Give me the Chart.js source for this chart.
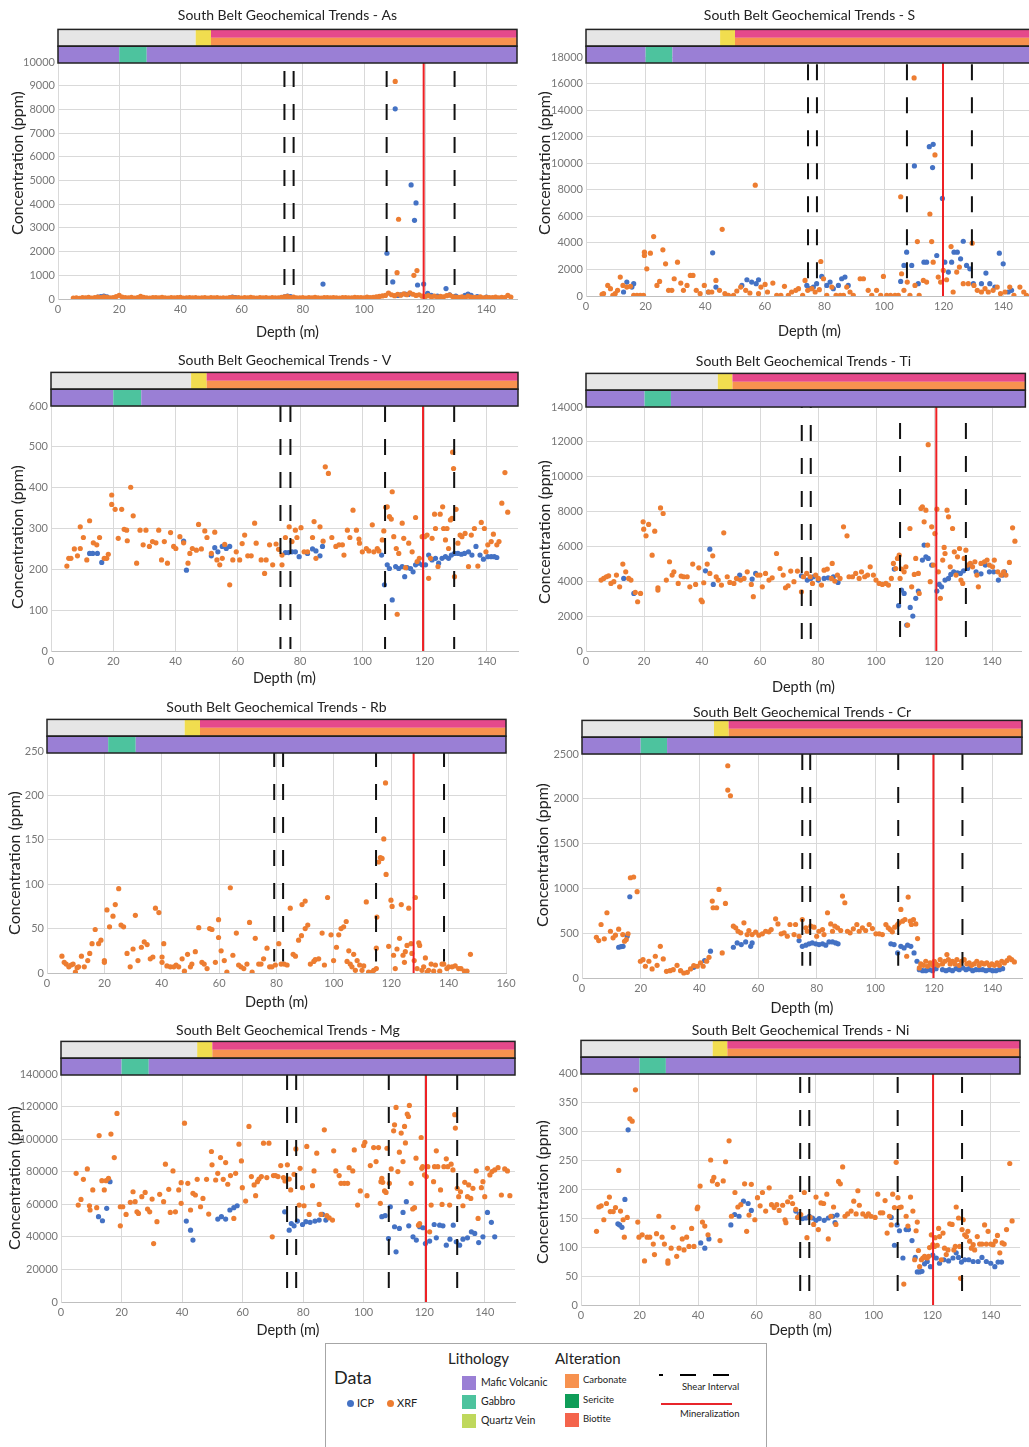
<!DOCTYPE html>
<html>
<head>
<meta charset="utf-8">
<script src="https://cdn.jsdelivr.net/npm/chart.js@4.4.1/dist/chart.umd.min.js"></script>
<style>
  html, body { margin: 0; padding: 0; background: #fff; }
  body { width: 1029px; height: 1447px; overflow: hidden; position: relative; font-family: Lato, "Open Sans", sans-serif; color: #222; }
  canvas.panel { position: absolute; }
  #legend { position: absolute; left: 325px; top: 1343px; width: 442px; height: 110px; border: 1px solid #a6a6a6; box-sizing: border-box; }
  #legend div { position: absolute; white-space: nowrap; }
  .sw { width: 14px; height: 14px; }
  .dot { width: 7px; height: 7px; border-radius: 50%; }
  .dash { height: 2px; background: #000; }
</style>
</head>
<body>
<canvas id="cAs" class="panel"></canvas>
<canvas id="cS" class="panel"></canvas>
<canvas id="cV" class="panel"></canvas>
<canvas id="cTi" class="panel"></canvas>
<canvas id="cRb" class="panel"></canvas>
<canvas id="cCr" class="panel"></canvas>
<canvas id="cMg" class="panel"></canvas>
<canvas id="cNi" class="panel"></canvas>

<div id="legend">
  <div style="left:8px;top:22px;font-size:18px;">Data</div>
  <div class="dot" style="left:21px;top:56px;background:#4472c4;"></div>
  <div style="left:31px;top:52px;font-size:11px;">ICP</div>
  <div class="dot" style="left:61px;top:56px;background:#ed7d31;"></div>
  <div style="left:71px;top:52px;font-size:11px;">XRF</div>

  <div style="left:122px;top:5px;font-size:15px;">Lithology</div>
  <div class="sw" style="left:136px;top:32px;background:#9a7fd5;"></div>
  <div style="left:155px;top:32px;font-size:10.5px;">Mafic Volcanic</div>
  <div class="sw" style="left:136px;top:51px;background:#4dc39e;"></div>
  <div style="left:155px;top:51px;font-size:10.5px;">Gabbro</div>
  <div class="sw" style="left:136px;top:70px;background:#bfd85c;"></div>
  <div style="left:155px;top:70px;font-size:10.5px;">Quartz Vein</div>

  <div style="left:229px;top:5px;font-size:15px;">Alteration</div>
  <div class="sw" style="left:239px;top:30px;background:#f7924f;"></div>
  <div style="left:257px;top:30px;font-size:9.5px;">Carbonate</div>
  <div class="sw" style="left:239px;top:50px;background:#0f9d58;"></div>
  <div style="left:257px;top:50px;font-size:9.5px;">Sericite</div>
  <div class="sw" style="left:239px;top:69px;background:#f4644c;"></div>
  <div style="left:257px;top:69px;font-size:9.5px;">Biotite</div>

  <div class="dash" style="left:333px;top:30px;width:4px;"></div>
  <div class="dash" style="left:354px;top:30px;width:16px;"></div>
  <div class="dash" style="left:387px;top:30px;width:16px;"></div>
  <div style="left:356px;top:37px;font-size:9.5px;">Shear Interval</div>
  <div style="left:335px;top:59px;width:71px;height:2px;background:#e8252b;"></div>
  <div style="left:354px;top:64px;font-size:9.5px;">Mineralization</div>
</div>

<script>
// ---- lithology / alteration logs along the hole (depth in m) ----
const altFrom = [0, 45, 50];
const altTo = [45, 50, 150];
const altKind = ['none', 'quartz', 'carbonate+biotite'];
const lithFrom = [0, 20, 29];
const lithTo = [20, 29, 150];
const lithKind = ['mafic', 'gabbro', 'mafic'];

// ---- As ----
const asIcp = [[13,80],[14,100],[15,120],[16,90],[57,80],[58,60],[74,90],[75,120],[76,100],[86.6,630],[107.5,1930],[109.4,720],[110.2,8025],[111,150],[112,180],[113.5,210],[114.5,190],[115.4,4815],[116.5,3320],[117,4055],[117.5,590],[119.5,630],[120.8,240],[122,150],[124,120],[126.8,440],[128,180],[130,120],[133,150],[134,210],[135,150],[137,100],[140,80]];
const asXrf = [[5,40],[6,50],[7,30],[8,60],[9,45],[10,70],[11,40],[12,55],[13,80],[14,60],[15,90],[16,70],[17,50],[18,60],[19,100],[20,150],[21,80],[22,60],[23,50],[24,70],[25,40],[26,60],[27,110],[28,70],[29,50],[30,40],[31,60],[32,55],[33,45],[34,70],[35,50],[36,40],[37,60],[38,45],[39,55],[40,70],[41,40],[42,50],[43,60],[44,45],[45,55],[46,35],[47,50],[48,60],[49,40],[50,55],[51,45],[52,60],[53,40],[54,50],[55,35],[56,55],[57,70],[58,45],[59,60],[60,40],[61,55],[62,45],[63,70],[64,50],[65,40],[66,60],[67,45],[68,55],[69,35],[70,60],[71,50],[72,45],[73,70],[74,90],[75,110],[76,60],[77,80],[78,50],[79,45],[80,60],[81,40],[82,55],[83,50],[84,65],[85,45],[86,40],[87,60],[88,55],[89,45],[90,60],[91,50],[92,40],[93,55],[94,60],[95,45],[96,50],[97,70],[98,55],[99,60],[100,45],[101,80],[102,60],[103,70],[104,90],[105,110],[106,130],[107,150],[108,250],[109,180],[110,140],[111,200],[112,160],[113,220],[114,180],[115,260],[116,200],[117,150],[118,180],[119,120],[120,100],[121,140],[122,90],[123,120],[124,80],[125,110],[126,90],[127,140],[128,160],[129,100],[130,80],[131,70],[132,90],[133,60],[134,120],[135,80],[136,70],[137,60],[138,90],[139,50],[140,70],[141,60],[142,55],[143,80],[144,50],[145,70],[146,60],[147,150],[148,80],[110.2,9180],[111.3,3365],[110.8,1110],[116.3,1000],[117.3,1200]];

// ---- S ----
const sIcp = [[12.6,300],[13.7,1050],[15.4,675],[16,925],[41.1,300],[42.5,3250],[43.6,675],[52.3,800],[54,1225],[55.6,1050],[57.1,925],[57.9,1225],[74.1,800],[75.2,550],[76.3,675],[77.4,925],[79.1,1475],[80.8,800],[81.9,1050],[83,550],[84.7,800],[85.8,1300],[86.9,1425],[88,800],[105.6,1100],[106.7,2300],[107.6,3300],[109.3,2300],[110.2,9800],[111.5,925],[113.4,2550],[114.3,2550],[115.2,11250],[116.5,11425],[116.3,9675],[117.7,3050],[119.6,7350],[120.4,2550],[121.6,1800],[122.7,2550],[123.5,3300],[124.6,3300],[125.7,2800],[126.6,4125],[127.7,2300],[128.8,2050],[130,925],[132.7,925],[134.2,1725],[135.5,925],[137.2,675],[138.7,3225],[140,2425],[141.7,300],[142.8,425]];
const sXrf = [[5.4,125],[5.9,175],[7.3,800],[8.2,550],[9,50],[9.8,175],[10.6,425],[11.5,1425],[12.4,800],[13.7,675],[14.9,725],[16,50],[17.1,50],[18.2,50],[19.3,50],[19.6,3300],[19.6,3050],[20.4,2050],[21.6,3225],[22.7,4475],[23.8,800],[24.7,1100],[25.8,3475],[26.7,2425],[27.7,425],[28.8,425],[29.6,1300],[30.7,2550],[31.8,975],[32.7,425],[33.9,800],[35,1550],[35.9,1550],[37,425],[38.3,175],[39.7,800],[41.1,300],[42.2,300],[43.6,1175],[44.8,425],[45.7,5025],[46.6,175],[47.8,50],[49.5,50],[50.6,375],[51.9,675],[53.6,425],[55,225],[56.8,8350],[57.9,175],[58.7,675],[60.1,875],[60.9,300],[62.7,975],[64,50],[65.4,50],[66.6,725],[67.9,50],[69,300],[70.4,425],[71.3,550],[72.7,50],[73.5,1175],[74.4,425],[75.8,550],[76.9,300],[78.3,475],[78.8,2600],[79.7,1300],[80.8,50],[82.5,675],[83.9,50],[85.3,50],[86.4,50],[87.5,675],[88.6,300],[89.7,50],[92,1300],[93.1,1300],[94.7,425],[95.9,50],[97.5,425],[98.9,50],[99.8,1475],[100.9,50],[102.2,50],[103.7,50],[104.8,50],[105.6,7475],[105.9,1675],[106.7,425],[107.8,1050],[108.7,50],[110.1,16425],[110.4,800],[111.2,4100],[111.8,50],[113.2,1175],[114.3,1050],[115.4,6175],[116,4100],[117.1,10625],[116.5,2550],[118.2,1425],[119,1050],[119.9,1925],[121,1225],[122.5,3725],[123.2,300],[124.4,1800],[125.3,2175],[126.6,925],[128.3,925],[129.6,3975],[130.2,800],[131.3,425],[132.7,300],[133.9,550],[135,300],[136.6,425],[138,675],[139.1,175],[140.6,300],[142.2,675],[143.6,50],[145.6,675],[146.9,300],[147.8,50]];

// ---- V ----
const vIcp = [[12.4,239],[13.4,239],[14.9,239],[16.3,217],[42.6,269],[43.5,198],[51.5,233],[52.6,253],[53.6,243],[55,256],[56.3,251],[57.4,256],[75.3,241],[76.3,241],[77.4,243],[78.5,243],[79.7,231],[82.4,239],[84,250],[85.1,245],[86.4,233],[87.2,256],[106.2,235],[107.1,162],[108,211],[108.7,202],[109.6,125],[110.7,207],[111.7,202],[112.8,207],[113.6,182],[114.4,204],[115.5,202],[116.3,194],[117.1,211],[118.1,215],[119.2,211],[120.3,211],[121.3,235],[122.4,223],[123.5,227],[124.5,215],[125.6,227],[126.7,231],[127.7,227],[128.6,235],[129.6,239],[130.7,239],[131.8,237],[132.8,239],[134.1,243],[135.2,235],[136.5,256],[137.8,235],[138.9,225],[140.3,231],[141.4,231],[142.4,231],[143.2,229]];
const vXrf = [[5.1,208],[5.7,227],[6.4,227],[7.5,250],[8.5,233],[9.4,304],[9.4,251],[10.4,278],[11.5,223],[12.4,319],[13.6,265],[14.7,260],[15.6,278],[17.1,227],[17.9,227],[18.4,237],[19.5,382],[19.5,359],[20.6,347],[21.6,276],[22.7,347],[23.5,298],[24.3,296],[24.5,270],[25.6,401],[26.4,331],[27.5,215],[28.6,296],[29.6,260],[30.5,296],[31.6,256],[32.6,268],[33.7,265],[34.6,296],[35.5,223],[36.4,268],[37.4,215],[38.4,290],[39.4,256],[40.1,251],[41.4,280],[42.6,265],[44,215],[44.6,239],[45.4,251],[46.7,247],[47.4,310],[48.3,250],[49.4,294],[50.1,278],[51.5,239],[52.6,291],[53.3,223],[54.2,211],[55,227],[55.8,261],[57.4,162],[58.4,223],[59.5,243],[60.6,223],[61.4,263],[62.2,284],[63.2,233],[64.3,233],[65.4,313],[65.9,264],[67.5,223],[68.6,190],[69.1,223],[70.2,260],[71.2,211],[72.3,262],[73.1,249],[74.2,211],[74.2,235],[75.3,278],[76.5,304],[77.4,268],[78.5,296],[79,278],[80.3,302],[81.3,243],[82.4,243],[84,278],[84.5,317],[85.1,227],[86.4,304],[87.4,269],[88.1,451],[89.1,435],[90.2,278],[91.5,256],[92.5,260],[93.6,260],[94.1,235],[95.2,296],[96,278],[97,345],[98.1,296],[98.9,274],[99.1,264],[100,243],[101.3,251],[102.1,245],[103.2,309],[103.7,243],[104.8,251],[105.3,245],[106.4,272],[106.9,294],[107.5,352],[108,353],[108.7,329],[109.3,323],[109.6,390],[110.1,280],[110.9,251],[111.2,90],[111.7,239],[112.8,313],[113.3,276],[113.9,204],[114.9,264],[116,243],[117.1,327],[117.6,219],[118.3,227],[119.2,280],[120,280],[120.8,284],[121.3,178],[121.9,227],[122.4,276],[123.2,335],[123.5,300],[124.3,207],[125,335],[125.8,353],[126.1,300],[126.7,272],[127.2,300],[127.7,251],[128.3,321],[128.8,325],[129,487],[129.3,447],[129.6,182],[130.1,347],[130.7,264],[131.4,284],[132,280],[133,288],[134.1,207],[135,284],[136,300],[137.1,208],[138.2,315],[139.2,300],[139.7,243],[140.3,260],[141.4,268],[142.1,286],[143.2,260],[143.9,268],[144.8,362],[145.8,437],[146.7,340]];

// ---- Ti ----
const tiIcp = [[13,4165],[16.5,3305],[41.2,4600],[42.7,5845],[43.9,3820],[53,4355],[57.3,4125],[58.5,4450],[74.3,4315],[76.3,4070],[77.5,4165],[78.4,4260],[80.1,4070],[82.1,4165],[83.5,4200],[85.3,4260],[86.9,3935],[106.3,4700],[107.8,2600],[108.8,3495],[109.7,3305],[110.6,1490],[111.8,2500],[112.7,2005],[113.7,3020],[114.6,3440],[116,5215],[116.6,6075],[117.2,5405],[118,5310],[119.2,4930],[121,3440],[121.8,3820],[122.6,3685],[123.8,4070],[125,4165],[125.8,4395],[126.8,4545],[128.1,4490],[129.1,4450],[130.2,4600],[131.6,4735],[132.7,4930],[134.5,4545],[136.2,4430],[137.7,4930],[139.1,4545],[140.6,4545],[142.2,4070],[143.7,4355],[144.3,4545]];
const tiXrf = [[5.2,4070],[6.1,4165],[7,4260],[7.8,4315],[8.6,3875],[9.6,3975],[10.5,4355],[11.6,3685],[12.7,4985],[13.7,4545],[14.7,4165],[15.5,4070],[17,3360],[17.8,2825],[18.8,3305],[19.7,7410],[19.9,6990],[20.7,6610],[21.6,7260],[22.8,5500],[23.7,6875],[24.8,3630],[24.8,3495],[25.7,8210],[26.6,7890],[27.7,4070],[28.8,5120],[29.7,4355],[30.3,4545],[31.8,3875],[32.8,4300],[33.7,4260],[34.9,4260],[35.8,3685],[36.8,4985],[37.8,3820],[38.9,4775],[39.7,2920],[40.1,2825],[40.6,3915],[41.8,4985],[42.7,4450],[43.7,5460],[44.9,4260],[45.6,4070],[46.7,3780],[47.5,6780],[48.7,4260],[49.6,3935],[51,3875],[51.9,4165],[53.3,4070],[54.5,4165],[55.6,4545],[57,3820],[57.7,3115],[59.1,4355],[60,4355],[60.8,3685],[61.9,4450],[63.1,4070],[64.2,4200],[65.7,5595],[66.9,4735],[68,4355],[68.8,3630],[69.7,3745],[70.6,4585],[71.7,3975],[72.9,4585],[74.3,3400],[75,4260],[76.1,4450],[77.3,4260],[78.1,3875],[79.2,4355],[80.1,4165],[81.2,3780],[82.1,4640],[83.2,4700],[84.6,4165],[84.9,5025],[85.8,4010],[86.7,4355],[87.6,4165],[88.8,7125],[90,6610],[90.7,4260],[91.9,4260],[93,4450],[94.2,4165],[95,4545],[96.1,4260],[97.1,4355],[98,4830],[99.1,4355],[100,4070],[101.1,3875],[102.2,3820],[103.4,3875],[104.3,3780],[105.3,4165],[106,5025],[106.8,4735],[107.4,5310],[108,5500],[108.3,4165],[108.8,4700],[109.7,4545],[110.3,4830],[110.9,1490],[111.7,7030],[112.3,3685],[113.2,4395],[113.7,5310],[114.6,4450],[114.9,3305],[115.5,8175],[116,8270],[116.6,7410],[117.2,8080],[117.8,6075],[118,11840],[118.7,3975],[119.2,7125],[119.8,4930],[120.3,6740],[121,8135],[121.5,4545],[122.2,3020],[123,5215],[123.5,5940],[123.8,5595],[124.5,8080],[125,7700],[125.6,4830],[126.4,7030],[127,5690],[127.6,4355],[128.1,5405],[128.8,5880],[129.3,4070],[129.9,3875],[130.4,5310],[131,5785],[131.6,4930],[132.5,5025],[133.3,4830],[134.1,5120],[134.8,4355],[135.3,3685],[136.2,5025],[137.4,5120],[138.3,5215],[139.1,4930],[140.2,4830],[140.8,5215],[142,4545],[143.1,4355],[144,4545],[144.8,4355],[146,5080],[147.1,7070],[147.9,6300]];

// ---- Rb (XRF only) ----
const rbIcp = [];
const rbXrf = [[5.2,19],[6,12],[6.7,10],[7.6,7],[8.4,9],[9.1,10],[9.9,1],[10.5,6],[11,7],[12,19],[13,7],[14.2,14],[14.9,22],[15.7,33],[16.8,49],[18,33],[18.8,37],[20,14],[20,12],[20.9,71],[21.8,52],[23,64],[23.8,77],[25,95],[25.8,54],[26.7,52],[27.9,22],[29,7],[30,27],[30.8,65],[31.7,14],[32.9,29],[33.9,35],[34.9,32],[36,16],[36.9,18],[37.8,73],[39,68],[40.1,18],[40.7,33],[40.1,12],[41.8,8],[43,7],[44.2,7],[45,9],[45.9,7],[47.1,16],[47.9,2],[49,21],[50,7],[50.5,10],[51.7,24],[52.9,51],[54,12],[54.8,10],[55.8,5],[56.7,50],[57.5,49],[58.7,12],[59.8,60],[59.8,40],[60.7,25],[61.8,14],[62.7,1],[63.9,96],[64.8,20],[66,45],[66.8,9],[67.6,7],[68.6,5],[69.7,10],[70.6,57],[71.5,1],[72.6,39],[73.8,10],[74.6,10],[75.5,16],[76.7,28],[77.6,7],[78.4,7],[79.6,9],[80.8,33],[81.6,10],[82.7,10],[83.7,9],[84.8,73],[85.8,21],[86.6,19],[87.7,37],[88.7,42],[88.9,77],[90,81],[90,50],[90.9,54],[91.8,10],[93,13],[93.5,15],[94.7,16],[95.9,45],[96.7,9],[97.8,85],[99,43],[99.9,14],[100.9,29],[101.7,43],[102.5,50],[103.4,52],[104.3,58],[104.6,13],[105.2,25],[105.7,10],[106.3,7],[106.9,21],[107.5,3],[108.1,14],[109,9],[109.8,3],[110.4,8],[111.3,80],[112.1,1],[113.3,1],[113.9,3],[114.8,5],[114.8,28],[115,63],[115.6,125],[116.2,130],[116.8,129],[117.4,151],[118,214],[118.2,111],[119.1,30],[119.9,82],[120.3,75],[120.8,20],[121.4,5],[122,27],[122.9,39],[123.5,77],[124.1,20],[124.6,12],[124.9,24],[125.5,31],[126.1,73],[126.9,33],[127.2,22],[128,14],[128.4,85],[129,5],[129.6,34],[129.9,31],[130.7,3],[131.3,7],[131.9,17],[132.5,1],[133,3],[133.9,10],[134.8,2],[135.4,9],[136.9,2],[137.7,10],[138.3,10],[139.4,5],[140,7],[141.2,7],[142.3,8],[143.5,5],[144.3,5],[145.5,2],[146.4,2],[147.6,21]];

// ---- Cr ----
const crIcp = [[12.5,343],[13.3,351],[14,354],[15.4,466],[16.3,907],[38.1,119],[41.8,194],[43.8,299],[51.6,343],[52.9,392],[54.3,373],[55.8,403],[57.5,354],[58,392],[74,418],[75.1,354],[76.3,366],[77.4,381],[78.5,392],[79.7,381],[80.8,373],[82,381],[83.1,366],[84.2,403],[85.4,403],[86.5,392],[87.3,381],[105.3,381],[106.4,373],[107.6,280],[108.7,354],[109.8,336],[111,366],[112.1,354],[113.2,280],[114.2,187],[115,93],[116.1,82],[117.2,82],[118.4,93],[119.5,82],[120.7,104],[122.9,93],[124.1,82],[125.2,93],[126.3,82],[127.5,104],[128.6,93],[129.8,112],[130.9,93],[132,104],[133.2,82],[134.3,93],[135.4,93],[136.6,93],[137.7,82],[138.9,93],[140,82],[141.1,82],[142.3,93],[143.4,104]];
const crXrf = [[4.9,455],[5.7,418],[6.5,597],[7.6,437],[8.5,728],[9.7,522],[10.6,448],[11.4,478],[12.5,545],[13.9,485],[14.5,410],[15.1,429],[15.7,493],[16.5,1119],[17.6,1127],[18.8,963],[19.9,187],[20.8,205],[21.6,131],[22.8,187],[23.9,101],[25,243],[25.6,142],[26.7,354],[27.7,213],[28.8,75],[30,82],[31.1,93],[32.4,142],[33.6,82],[34.7,56],[35.9,63],[37,101],[38.1,138],[39.3,131],[40.4,168],[41.3,131],[42.5,187],[43.3,231],[44.4,858],[44.7,784],[45.9,784],[46.7,989],[47.8,280],[48.9,832],[49.7,2369],[49.7,2097],[50.6,2034],[51.6,578],[52.4,560],[53.2,522],[54.1,504],[55.2,616],[56.3,485],[56.9,530],[58,485],[59.2,511],[60.3,478],[61.5,493],[62.6,522],[63.7,515],[64.5,541],[66,660],[66.8,604],[67.9,493],[68.9,504],[70,466],[70.9,597],[72.3,485],[72.8,597],[74,466],[75.1,653],[76.3,560],[76.8,522],[78,578],[79.1,567],[80,466],[80.8,522],[82,541],[82.5,485],[83.7,728],[84.8,604],[85.4,522],[86.2,578],[87.1,560],[88.2,530],[88.8,914],[89.6,840],[90.5,522],[91.4,504],[92.5,549],[93.7,597],[94.5,522],[95.6,560],[96.7,530],[97.9,597],[99,552],[100.2,493],[101.3,493],[102.4,485],[103.6,597],[104.4,560],[105.1,541],[105.8,515],[106.6,567],[107.6,597],[108.1,616],[108.7,765],[109.3,634],[110.1,653],[110.7,243],[111.2,903],[111.9,634],[112.3,597],[113,653],[113.8,604],[114.4,440],[115,112],[115.5,157],[116.4,142],[117.2,187],[117.8,131],[118.7,168],[119.5,142],[120.1,187],[120.7,157],[121.4,142],[122.1,205],[122.9,157],[123.7,187],[124.4,261],[124.9,205],[125.5,157],[126.3,187],[127.1,157],[127.8,205],[128.6,142],[129.4,187],[130.3,205],[131.2,157],[132,168],[132.8,142],[133.7,157],[134.6,187],[135.4,142],[136.2,168],[137.1,157],[138,168],[138.9,142],[139.7,157],[140.6,142],[141.5,168],[142.3,142],[143.1,187],[144,168],[144.9,194],[145.7,224],[146.5,205],[147.4,179]];

// ---- Mg ----
const mgIcp = [[12.4,52400],[13.7,49900],[15.1,57500],[16.2,73900],[41.4,49700],[42.8,44100],[43.6,38000],[51.8,50900],[53,52400],[54.4,50900],[55.8,56500],[57.1,57900],[58.2,59100],[73.9,55400],[75.4,44100],[76.1,48200],[77,46800],[78.1,49700],[79.8,47600],[80.9,49300],[82.3,48900],[83.9,49700],[85.3,50300],[86.4,53800],[87.5,50300],[106,52400],[107.1,53000],[108.2,39000],[108.8,58500],[110.2,46200],[110.7,30800],[111.8,45200],[113,55000],[114.1,61600],[114.9,46800],[116.3,40000],[117.4,38000],[118.5,46200],[119.6,45600],[120.4,35900],[121.8,37400],[123.3,47600],[124,39400],[125.1,47200],[126.2,46800],[127.3,34900],[128.5,38600],[129.6,47200],[130.6,37000],[131.7,34900],[132.8,38600],[134.3,39400],[135.6,43100],[136.7,42100],[138,36500],[139.4,40000],[140.9,55000],[142.2,48900],[143.3,40000]];
const mgXrf = [[5,79000],[5.7,59500],[6.6,63000],[7.4,75300],[8.7,81700],[9.4,59100],[9.6,56500],[10.5,68800],[11.8,57900],[12.6,102200],[13.5,74500],[14.3,68800],[14.9,74500],[15.7,76000],[16.5,103100],[17.6,88700],[18.5,115800],[19.6,58500],[19.6,46800],[20.4,58500],[21.5,53800],[22.9,61200],[23.8,67700],[24.5,61600],[25.1,55400],[25.6,54400],[26.7,64700],[27.8,67300],[28.6,57100],[29.3,55400],[30.1,63200],[30.6,35900],[31.7,49300],[32.6,66100],[33.9,61600],[34.5,84600],[35.6,69200],[36.1,55000],[37,80500],[37.8,55400],[38.9,68800],[39.7,60600],[39.7,73300],[40.8,109800],[41.9,72900],[42.8,56500],[43.6,66700],[44.4,65700],[45,75300],[46.1,58500],[46.9,63600],[48.1,75300],[48.8,54000],[49.7,92400],[49.9,84200],[51.1,74900],[51.8,79000],[52.7,88700],[53.6,75300],[54.4,85600],[55.1,72300],[56,77600],[57.1,51300],[57.7,79000],[58.8,96900],[59.6,86600],[59.9,70200],[61,62000],[62.1,107800],[62.9,77000],[63.8,71900],[64.3,65300],[64.9,73900],[65.4,75500],[66.2,77000],[66.9,97500],[68,76400],[68.7,97500],[69.8,40000],[70.2,77600],[70.9,77600],[71.7,77000],[72.6,83800],[73.5,76400],[74,74300],[74.8,84200],[75.4,75500],[75.9,68800],[77,78400],[77.6,94000],[78.7,59500],[79,82100],[79.8,70200],[80.3,59100],[81.2,95500],[82,53800],[83.1,71400],[83.6,80500],[84.5,91400],[85.3,59900],[85.9,53800],[87,105700],[87.8,53000],[88.6,51700],[89.7,50300],[90.1,92800],[90.8,80500],[91.9,77600],[92.5,72900],[93.6,72900],[94.7,72900],[95.2,82500],[96.4,80500],[96.9,93400],[98,59500],[98.9,68200],[100,96100],[100.4,98100],[101.1,65300],[102.2,83800],[103.3,94800],[104.1,86200],[104.9,94800],[105.5,60600],[105.7,73900],[106,76000],[106.3,73500],[106.9,68200],[107.4,67300],[107.7,94400],[108.5,72900],[109.1,81700],[109.9,105100],[110.2,108800],[110.7,119500],[111.3,80100],[111.8,92000],[112.4,103700],[113,86200],[113.5,107800],[113.8,97700],[114.4,115400],[114.8,113900],[115.1,120700],[115.7,72900],[116.2,57100],[116.8,57900],[117.3,88300],[118.1,47200],[118.5,48200],[119,101000],[119.2,82100],[119.5,83100],[120.1,78000],[120.7,77000],[121.2,83100],[121.8,43100],[122.3,59500],[123.1,73900],[123.4,83100],[124,92800],[124.5,83100],[125.4,68800],[125.9,59900],[126.5,83100],[127.3,87900],[127.8,83100],[128.4,59500],[128.9,84600],[129.5,81100],[130.1,115000],[130.3,106800],[130.9,69800],[131.4,64700],[132,67700],[132.8,59100],[133.4,73500],[134.3,64700],[134.7,71900],[135.4,63600],[136.1,69800],[137.2,80500],[137.8,51300],[138.9,70200],[139.4,73900],[140,64700],[140.9,82100],[141.7,78000],[142.4,80100],[143.3,81100],[144.4,82500],[145.5,65700],[146.6,81700],[147.5,80500],[148.3,65300]];

// ---- Ni ----
const niIcp = [[12.6,140],[13.2,138],[14,134],[15,182],[16.1,302],[40.9,107],[42.3,98],[43.7,114],[51.2,138],[52.5,156],[54,153],[55.5,179],[57.1,175],[58.2,163],[73.4,162],[74.6,156],[75.7,149],[76.9,150],[78,153],[79.1,150],[80.3,146],[81.4,149],[83.1,146],[84.5,150],[86,153],[86.8,142],[87.5,155],[106,151],[107.1,103],[108,138],[108.8,128],[110,81],[111.1,130],[111.9,130],[113.1,111],[114.2,82],[114.9,57],[115.7,57],[116.5,58],[117.4,71],[118.3,75],[119.4,66],[120.2,86],[121.4,81],[122.5,72],[124,78],[125.6,76],[127.1,81],[128.2,90],[129,82],[130,74],[131.1,78],[132.5,78],[134,75],[135.7,75],[137,82],[138.5,75],[140,72],[141.4,66],[142.5,74],[143.7,74]];
const niXrf = [[5.3,127],[6.1,169],[6.9,171],[7.8,147],[8.7,175],[9.7,186],[10,161],[11,161],[11.8,168],[12.9,232],[13.5,162],[14.4,147],[14.8,117],[15.8,151],[16.7,321],[17.5,317],[18.6,371],[19.4,143],[19.8,117],[20.9,121],[21.7,76],[22.6,117],[23.5,117],[24.7,105],[25.1,87],[25.8,123],[26.6,153],[27.7,117],[28.5,105],[29.7,76],[29.7,72],[30.8,98],[31.5,134],[32.7,84],[33.5,98],[34.6,114],[35.2,95],[36.1,117],[36.9,101],[37.8,132],[38.6,101],[39.7,166],[39.9,169],[40.7,205],[41.5,143],[42.3,136],[43.4,121],[44.3,250],[44.9,214],[45.4,220],[46.6,208],[47.5,111],[48.6,214],[49.4,247],[50.6,283],[51.4,153],[52.6,194],[53.6,169],[54.6,173],[55.9,209],[56.6,127],[57.4,155],[58.2,208],[59.4,147],[60.3,185],[61.2,171],[62,194],[63.1,162],[64.3,202],[65.1,173],[66,168],[66.9,173],[67.7,163],[68.9,172],[69.7,147],[70,142],[70.6,178],[71.7,186],[72.3,175],[73.4,165],[74,151],[75.1,156],[76.3,194],[77.2,116],[78.3,151],[79.5,139],[80.3,186],[81.1,130],[82,176],[82.9,175],[84,191],[84.5,114],[85.4,153],[86.3,169],[87.1,139],[88,213],[88.6,209],[89.4,238],[90.2,153],[91.1,157],[92.3,162],[93.2,179],[94,157],[94.6,197],[95.1,172],[96.3,157],[97.4,153],[98.2,157],[99.1,153],[100.5,151],[101.4,191],[102.3,159],[103.1,159],[103.9,180],[104.6,124],[105.4,153],[106,138],[106.5,191],[107.1,168],[107.7,246],[108.3,185],[108.8,168],[109.4,169],[110.3,36],[111.1,153],[111.7,136],[112.6,186],[113.4,162],[114,78],[114.5,128],[114.9,143],[115.3,94],[115.7,66],[116.3,78],[116.8,81],[117.4,84],[118.3,81],[118.8,84],[119.1,99],[119.7,121],[120.2,104],[120.8,101],[121,116],[121.7,103],[122.2,132],[122.5,118],[123.1,78],[123.7,124],[124.2,98],[124.8,87],[125.4,95],[126,140],[126.8,139],[127.4,95],[127.9,101],[128.2,169],[129,150],[129.4,101],[129.7,46],[130.2,130],[130.6,147],[131.1,121],[131.7,118],[132.2,127],[132.8,110],[133.4,98],[134,104],[134.5,95],[135.4,118],[136.2,105],[137,105],[137.9,138],[138.5,105],[139.1,127],[140,105],[140.8,104],[141.6,110],[142.3,120],[143.1,90],[143.9,107],[144.6,105],[145.4,130],[146.5,244],[147.3,145]];

// colours (styles kept apart from the values)
const bandColour = { none: '#e6e6e6', quartz: '#f1dd4f', carbonate: '#f7924f', biotite: '#e5498b', mafic: '#9a7fd5', gabbro: '#4dc39e' };
const icpColour = '#4472c4';
const xrfColour = '#ed7d31';
const fontFamily = 'Lato, "Open Sans", sans-serif';

const panels = [
  { id: 'cAs', name: 'As', icp: asIcp, xrf: asXrf, xMax: 150, yMax: 10000, yStep: 1000,
    shear: [74, 77, 107.4, 129.6], shearTop: [9620, 9620, 9620, 9620], shearBottom: [506, 506, 506, 506], mineral: 119.5, bandScale: 1,
    box: { left: 0, right: 4, plotL: 58, plotR: 517, plotT: 62, plotB: 299, bandB: 63, titleY: 15, depthY: 332, yTitleX: 18, yTitleY: 163 } },
  { id: 'cS', name: 'S', icp: sIcp, xrf: sXrf, xMax: 150, yMax: 18000, yStep: 2000,
    shear: [74.5, 77.5, 107.7, 129.5], shearTop: [17460, 17460, 17460, 17460], shearBottom: [850, 850, 850, 850], mineral: 119.8, bandScale: 1,
    box: { left: 520, right: 4, plotL: 586, plotR: 1033, plotT: 57, plotB: 296, bandB: 63, titleY: 15, depthY: 331, yTitleX: 545, yTitleY: 163 } },
  { id: 'cV', name: 'V', icp: vIcp, xrf: vXrf, xMax: 150, yMax: 600, yStep: 100,
    shear: [73.7, 76.9, 107.3, 129.5], shearTop: [600, 600, 600, 600], shearBottom: [5, 5, 5, 5], mineral: 119.5, bandScale: 1,
    box: { left: 0, right: 4, plotL: 51, plotR: 518, plotT: 406, plotB: 651, bandB: 406, titleY: 360, depthY: 678, yTitleX: 18, yTitleY: 537 } },
  { id: 'cTi', name: 'Ti', icp: tiIcp, xrf: tiXrf, xMax: 150, yMax: 14000, yStep: 2000,
    shear: [74.4, 77.5, 108.3, 131], shearTop: [14860, 14860, 13080, 13080], shearBottom: [630, 630, 745, 745], mineral: 120.8, bandScale: 1.01,
    box: { left: 520, right: 6, plotL: 586, plotR: 1021, plotT: 407, plotB: 651, bandB: 407, titleY: 361, depthY: 687, yTitleX: 545, yTitleY: 532 } },
  { id: 'cRb', name: 'Rb', icp: rbIcp, xrf: rbXrf, xMax: 160, yMax: 250, yStep: 50,
    shear: [79.2, 82.3, 114.7, 138.4], shearTop: [250, 250, 250, 250], shearBottom: [13, 13, 13, 13], mineral: 127.8, bandScale: 160 / 150,
    box: { left: 0, right: 14, plotL: 47, plotR: 506, plotT: 751, plotB: 973, bandB: 753, titleY: 707, depthY: 1002, yTitleX: 15, yTitleY: 863 } },
  { id: 'cCr', name: 'Cr', icp: crIcp, xrf: crXrf, xMax: 150, yMax: 2500, yStep: 500,
    shear: [75.1, 77.8, 107.8, 129.7], shearTop: [2500, 2500, 2500, 2500], shearBottom: [137, 137, 137, 137], mineral: 119.8, bandScale: 1,
    box: { left: 525, right: 4, plotL: 582, plotR: 1022, plotT: 754, plotB: 978, bandB: 754, titleY: 712, depthY: 1008, yTitleX: 543, yTitleY: 855 } },
  { id: 'cMg', name: 'Mg', icp: mgIcp, xrf: mgXrf, xMax: 150, yMax: 140000, yStep: 20000,
    shear: [74.7, 77.7, 108.3, 130.9], shearTop: [140000, 140000, 140000, 140000], shearBottom: [8450, 8450, 8450, 8450], mineral: 120.6, bandScale: 1,
    box: { left: 0, right: 4, plotL: 61, plotR: 515, plotT: 1074, plotB: 1302, bandB: 1075, titleY: 1030, depthY: 1330, yTitleX: 15, yTitleY: 1178 } },
  { id: 'cNi', name: 'Ni', icp: niIcp, xrf: niXrf, xMax: 150, yMax: 400, yStep: 50,
    shear: [74.9, 78, 108.2, 130.2], shearTop: [393, 393, 393, 393], shearBottom: [20, 20, 20, 20], mineral: 120.3, bandScale: 1,
    box: { left: 525, right: 4, plotL: 581, plotR: 1020, plotT: 1073, plotB: 1305, bandB: 1074, titleY: 1030, depthY: 1330, yTitleX: 543, yTitleY: 1192 } }
];

// draws the log strips above the plot and the rotated y title
function logStrips(p, canvasTop) {
  return {
    id: 'logStrips',
    afterDraw(chart) {
      const { ctx, scales: { x } } = chart;
      const rowH = 16.8;
      const y0 = p.box.bandB - canvasTop - 2 * rowH;
      const px = v => x.getPixelForValue(v * p.bandScale);
      ctx.save();
      altFrom.forEach((from, i) => {
        const x0 = px(from), w = px(altTo[i]) - x0;
        if (altKind[i] === 'carbonate+biotite') {
          ctx.fillStyle = bandColour.biotite;
          ctx.fillRect(x0, y0, w, rowH / 2);
          ctx.fillStyle = bandColour.carbonate;
          ctx.fillRect(x0, y0 + rowH / 2, w, rowH / 2);
        } else {
          ctx.fillStyle = bandColour[altKind[i]];
          ctx.fillRect(x0, y0, w, rowH);
        }
      });
      lithFrom.forEach((from, i) => {
        ctx.fillStyle = bandColour[lithKind[i]];
        ctx.fillRect(px(from), y0 + rowH, px(lithTo[i]) - px(from), rowH);
      });
      ctx.strokeStyle = '#222';
      ctx.lineWidth = 1.5;
      const full = px(150) - px(0);
      ctx.strokeRect(px(0), y0, full, rowH);
      ctx.strokeRect(px(0), y0 + rowH, full, rowH);

      ctx.translate(p.box.yTitleX - p.box.left, p.box.yTitleY - canvasTop);
      ctx.rotate(-Math.PI / 2);
      ctx.fillStyle = '#222';
      ctx.font = '16px ' + fontFamily;
      ctx.textAlign = 'center';
      ctx.textBaseline = 'middle';
      ctx.fillText('Concentration (ppm)', 0, 0);
      ctx.restore();
    }
  };
}

function drawPanel(p) {
  const b = p.box;
  const top = b.titleY - 12;
  const bottom = b.depthY + 11;
  const canvas = document.getElementById(p.id);
  canvas.width = b.plotR + b.right - b.left;
  canvas.height = bottom - top;
  canvas.style.left = b.left + 'px';
  canvas.style.top = top + 'px';

  const datasets = [];
  p.shear.forEach((sx, i) => {
    datasets.push({
      type: 'line',
      data: [{ x: sx, y: p.shearTop[i] }, { x: sx, y: p.shearBottom[i] }],
      borderColor: '#111', borderWidth: 2, borderDash: [16, 17],
      pointRadius: 0, order: 0
    });
  });
  datasets.push({
    type: 'line',
    data: [{ x: p.mineral, y: p.yMax }, { x: p.mineral, y: 0 }],
    borderColor: '#ee2024', borderWidth: 2, pointRadius: 0, order: 0
  });
  datasets.push({
    label: 'XRF',
    data: p.xrf.map(([x, y]) => ({ x, y })),
    backgroundColor: xrfColour, borderColor: xrfColour, borderWidth: 0,
    pointRadius: 2.6, order: 1
  });
  datasets.push({
    label: 'ICP',
    data: p.icp.map(([x, y]) => ({ x, y })),
    backgroundColor: icpColour, borderColor: icpColour, borderWidth: 0,
    pointRadius: 2.6, order: 2
  });

  const tickFont = { family: fontFamily, size: 11 };

  new Chart(canvas, {
    type: 'scatter',
    data: { datasets },
    options: {
      responsive: false,
      animation: false,
      devicePixelRatio: 1,
      layout: { padding: { left: 0, right: b.right, top: 0, bottom: 0 } },
      plugins: {
        legend: { display: false },
        tooltip: { enabled: false },
        title: {
          display: true,
          fullSize: false,
          text: 'South Belt Geochemical Trends - ' + p.name,
          color: '#222',
          font: { family: fontFamily, size: 14, weight: 'normal', lineHeight: 1.2 },
          padding: { top: b.titleY - top - 8.4, bottom: b.plotT - b.titleY - 8.4 }
        }
      },
      scales: {
        x: {
          type: 'linear', min: 0, max: p.xMax,
          ticks: { stepSize: 20, includeBounds: false, padding: 4, color: '#777', font: tickFont, maxRotation: 0 },
          grid: { color: '#d9d9d9', drawTicks: false },
          border: { color: '#bfbfbf' },
          title: { display: true, text: 'Depth (m)', color: '#222', font: { family: fontFamily, size: 14.5, lineHeight: 1.2 }, padding: { top: 0, bottom: 2 } },
          afterFit: s => { s.height = bottom - b.plotB; }
        },
        y: {
          type: 'linear', min: 0, max: p.yMax,
          ticks: { stepSize: p.yStep, padding: 3, color: '#777', font: tickFont, callback: v => v },
          grid: { color: '#d9d9d9', drawTicks: false },
          border: { color: '#d9d9d9' },
          afterFit: s => { s.width = b.plotL - b.left; }
        }
      }
    },
    plugins: [logStrips(p, top)]
  });
}

panels.forEach(drawPanel);
</script>
</body>
</html>
